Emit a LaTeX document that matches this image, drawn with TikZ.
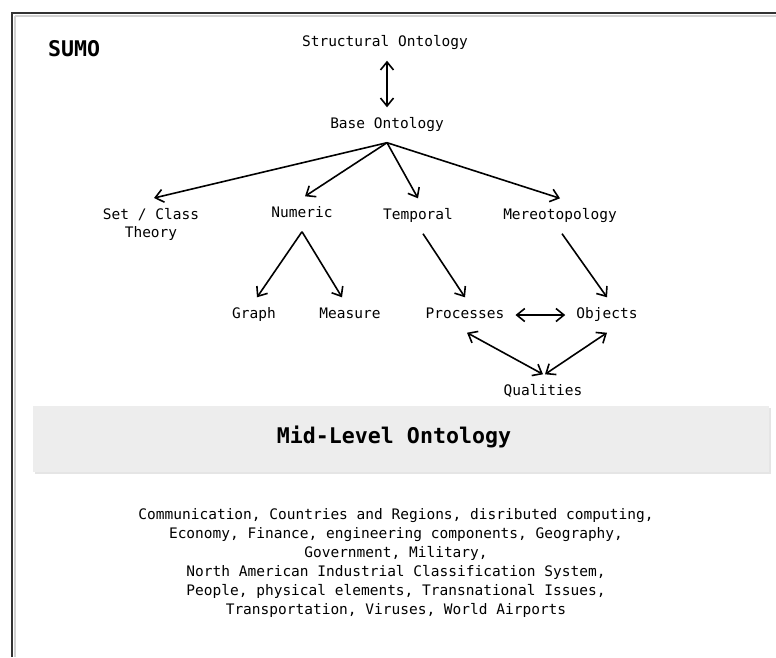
\documentclass[tikz,border=0pt]{standalone}
\usepackage{fontspec}
\setmonofont{DejaVu Sans Mono}
\usetikzlibrary{arrows.meta}
\begin{document}
\begin{tikzpicture}[x=1pt,y=-1pt,
  txt/.style={font=\ttfamily\fontsize{14.5}{18}\selectfont, inner xsep=11pt, inner ysep=11pt},
  lbl/.style={txt, text height=10pt, text depth=3pt},
  heading/.style={font=\ttfamily\bfseries\fontsize{21.6}{26}\selectfont, inner sep=0pt},
  tip/.tip={Straight Barb[length=8pt,width=13pt]},
  link/.style={line width=1.6pt, -tip},
  both/.style={line width=1.6pt, tip-tip},
]
\useasboundingbox (0,0) rectangle (776,657);
\clip (0,0) rectangle (776,657);
\fill[white] (0,0) rectangle (776,657);

% outer frame (only top and left edges fall on the page)
\draw[black!18, line width=2pt] (14.5,15.5) -- (776,15.5);
\draw[black!18, line width=2pt] (14.5,15.5) -- (14.5,657);
\draw[black!80, line width=1.6pt] (12,657) -- (12,13) -- (776,13);

\node[heading, anchor=west] (sumo) at (48,49) {SUMO};

% upper ontology
\node[lbl] (struct) at (385,43) {Structural Ontology};
\node[lbl] (base) at (387,125) {Base Ontology};

\node[txt, align=center, inner ysep=10pt, anchor=north] (settheory) at (151,198) {Set / Class\\Theory};
\node[lbl] (numeric) at (302,214) {Numeric};
\node[lbl] (temporal) at (418,216) {Temporal};
\node[lbl] (mereo) at (560,216) {Mereotopology};

\node[lbl] (graph) at (254,315) {Graph};
\node[lbl] (measure) at (350,315) {Measure};
\node[lbl] (processes) at (465,315) {Processes};
\node[lbl] (objects) at (607,315) {Objects};
\node[lbl] (qualities) at (543,392) {Qualities};

\draw[both] (base.north |- struct.south) -- (base.north);

\draw[link] (base.south) -- ([xshift=3pt]settheory.north);
\draw[link] (base.south) -- ([xshift=3pt]numeric.north);
\draw[link] (base.south) -- (temporal.north);
\draw[link] (base.south) -- (mereo.north);

\draw[link] (numeric.south) -- ([xshift=3pt]graph.north);
\draw[link] (numeric.south) -- ([xshift=-8pt]measure.north);
\draw[link] ([xshift=5pt]temporal.south) -- (processes.north);
\draw[link] ([xshift=2pt]mereo.south) -- (objects.north);

\draw[both] (processes.east) -- (objects.west);
\draw[both] ([xshift=2pt]processes.south) -- (qualities.north);
\draw[both] (objects.south) -- ([xshift=2pt]qualities.north);

% mid-level band
\fill[black!10] (34.5,407.5) rectangle (770.5,474);
\fill[black!7] (33,406) rectangle (769,472);
\node[heading, anchor=base] (mid) at (394,443) {Mid-Level Ontology};

\node[txt, inner sep=0pt, align=center, font=\ttfamily\fontsize{14.5}{19}\selectfont] (domains) at (396,563)
  {Communication, Countries and Regions, disributed computing,\\
   Economy, Finance, engineering components, Geography,\\
   Government, Military,\\
   North American Industrial Classification System,\\
   People, physical elements, Transnational Issues,\\
   Transportation, Viruses, World Airports};
\end{tikzpicture}
\end{document}
